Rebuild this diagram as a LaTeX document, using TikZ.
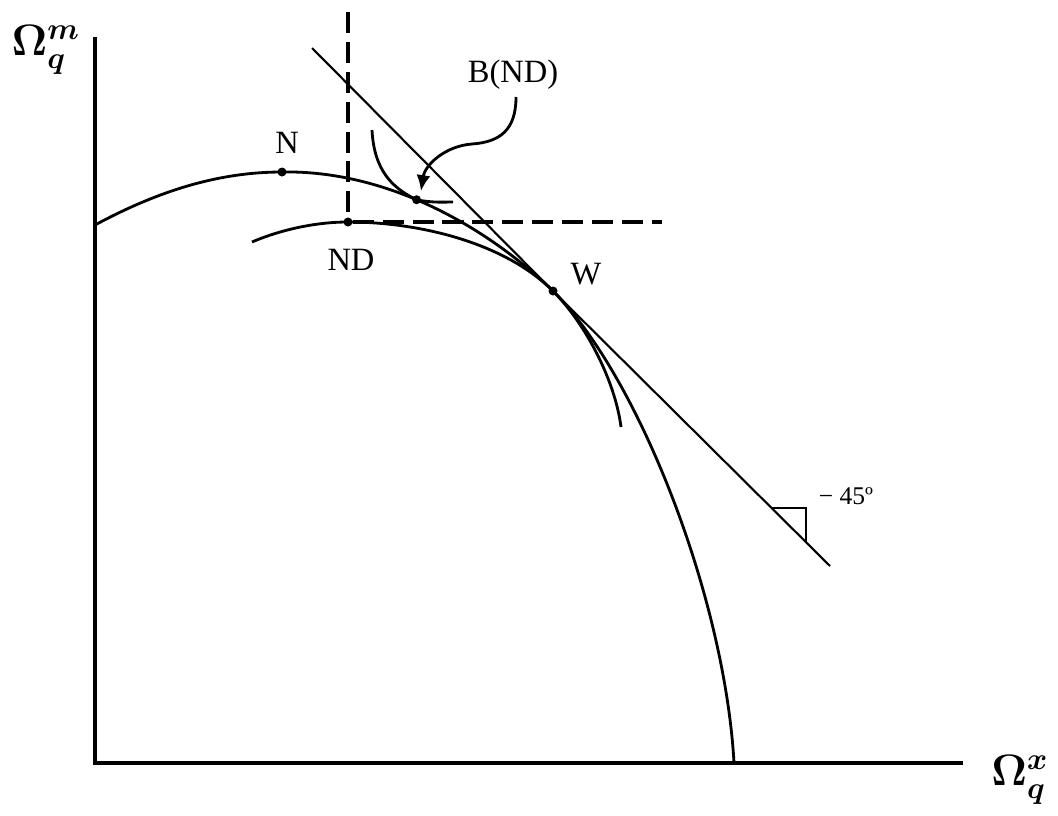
\documentclass[tikz,border=0pt]{standalone}
\usepackage{fontspec}
\setmainfont{Liberation Serif}
\usetikzlibrary{arrows.meta}
\tikzset{
  axis/.style={line width=2.3pt},
  frontier/.style={line width=1.6pt},
  dashln/.style={line width=2.2pt,dash pattern=on 12pt off 5pt},
  dot/.style={circle,fill,inner sep=0pt,minimum size=1.8mm},
  lbl/.style={font=\fontsize{18.5}{21}\selectfont},
  axlbl/.style={font=\fontsize{17.28}{20}\selectfont\boldmath,scale=1.45},
}
\begin{document}
\begin{tikzpicture}[x=0.2mm,y=-0.2mm]
  \useasboundingbox (0,0) rectangle (1058,815);
  % axes
  \coordinate (ytop) at (95,37);
  \coordinate (O) at (95,763);
  \coordinate (xend) at (963,763);
  \draw[axis] (ytop) -- (O) -- (xend);
  \node[axlbl] (ylab) at (46,50) {$\Omega^m_q$};
  \node[axlbl] (xlab) at (1020,780) {$\Omega^x_q$};
  % points
  \node[dot] (N) at (282,172) {};
  \node[dot] (ND) at (348,222) {};
  \node[dot] (W) at (553,291) {};
  % dashed lines through ND
  \coordinate (dtop) at (348,12);
  \coordinate (dright) at (662,222);
  \draw[dashln] (dtop) -- (ND) -- (dright);
  % outer frontier through N and W, down to the x axis
  \draw[frontier] (95,225) .. controls (160,190) and (220,172) .. (N.center)
    .. controls (385,170) and (485,225) .. node[dot,pos=0.45] (B) {} (W.center)
    .. controls (640,378) and (725,600) .. (734,763);
  % inner frontier through ND and W
  \draw[frontier] (252,242) .. controls (280,230) and (315,222) .. (ND.center)
    .. controls (420,222) and (505,243) .. (W.center)
    .. controls (585,323) and (615,380) .. (621,427);
  % small curve touching at B
  \draw[frontier] (372,130) .. controls (374,170) and (392,188) .. (B.center)
    .. controls (432,203) and (445,202) .. (453,202);
  % -45 degree line
  \coordinate (lstart) at (312,48);
  \coordinate (lend) at (830,566);
  \draw[line width=1.2pt] (lstart) -- (W) -- (lend);
  \draw[line width=0.8pt] (772,508) -- (806,508) -- (806,543);
  % labels
  \node[lbl] (Nlab) at (287,143) {N};
  \node[lbl] (NDlab) at (351,260) {ND};
  \node[lbl] (Wlab) at (586,274) {W};
  \node[lbl] (Blab) at (513,75) {B(ND)};
  \node[font=\fontsize{14.5}{16}\selectfont] (anglab) at (846,496) {− 45º};
  % arrow from label to B
  \coordinate (bndtail) at (516,97);
  \coordinate (bndtip) at (421,191);
  \draw[frontier,-{Latex[length=9pt,width=8pt]}] (bndtail)
    .. controls (516,130) and (500,142) .. (472,144)
    .. controls (445,146) and (425,165) .. (bndtip);
\end{tikzpicture}
\end{document}
